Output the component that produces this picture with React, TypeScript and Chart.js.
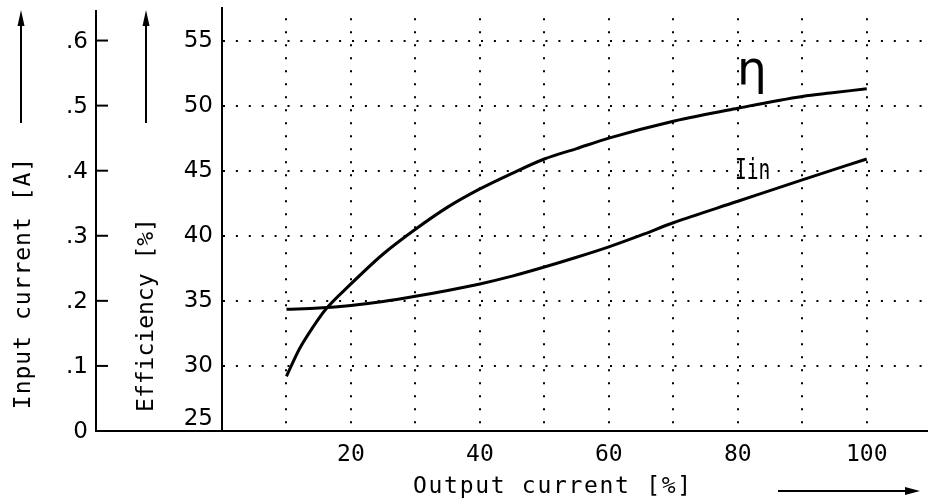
import React, { useEffect, useRef } from 'react';
import { Chart, registerables } from 'chart.js';

Chart.register(...registerables);

// ---- data ----
const effOutput = [10, 12, 14, 16, 20, 25, 30, 35, 40, 45, 50, 55, 60, 70, 80, 90, 95, 100];
const effValues = [29.2, 31.3, 32.9, 34.3, 36.3, 38.6, 40.5, 42.2, 43.6, 44.8, 45.9, 46.7, 47.5, 48.8, 49.8, 50.7, 51.0, 51.3];
const iinOutput = [10, 15, 20, 25, 30, 35, 40, 45, 50, 55, 60, 65, 70, 80, 90, 100];
const iinValues = [0.187, 0.189, 0.193, 0.199, 0.207, 0.216, 0.226, 0.238, 0.252, 0.267, 0.283, 0.301, 0.32, 0.353, 0.386, 0.418];
const xTickLabels = [20, 40, 60, 80, 100];
const effTicks = [25, 30, 35, 40, 45, 50, 55];
const curTicks = [0, 0.1, 0.2, 0.3, 0.4, 0.5, 0.6];
const curTickLabels = ['0', '.1', '.2', '.3', '.4', '.5', '.6'];

const MONO = '"DejaVu Sans Mono", monospace';
const SANS = '"DejaVu Sans", sans-serif';

function arrow(ctx: CanvasRenderingContext2D, x1: number, y1: number, x2: number, y2: number, len: number, half: number) {
  const a = Math.atan2(y2 - y1, x2 - x1);
  ctx.beginPath();
  ctx.moveTo(x1, y1);
  ctx.lineTo(x2 - Math.cos(a) * len * 0.5, y2 - Math.sin(a) * len * 0.5);
  ctx.stroke();
  ctx.beginPath();
  ctx.moveTo(x2, y2);
  ctx.lineTo(x2 - Math.cos(a) * len - Math.sin(a) * half, y2 - Math.sin(a) * len + Math.cos(a) * half);
  ctx.lineTo(x2 - Math.cos(a) * len + Math.sin(a) * half, y2 - Math.sin(a) * len - Math.cos(a) * half);
  ctx.closePath();
  ctx.fill();
}

const decor = {
  id: 'decor',
  afterDraw(chart: any) {
    const ctx: CanvasRenderingContext2D = chart.ctx;
    const ca = chart.chartArea;
    const cur = chart.scales.cur;
    const eff = chart.scales.eff;
    const xs = chart.scales.x;
    ctx.save();
    ctx.strokeStyle = '#000';
    ctx.fillStyle = '#000';
    ctx.lineWidth = 2;

    // secondary (input current) axis
    const axX = 96;
    ctx.beginPath();
    ctx.moveTo(axX, ca.top + 2);
    ctx.lineTo(axX, ca.bottom);
    ctx.lineTo(ca.left, ca.bottom);
    ctx.stroke();
    ctx.font = '23px ' + SANS;
    ctx.textAlign = 'right';
    ctx.textBaseline = 'middle';
    curTicks.forEach((v, i) => {
      const y = cur.getPixelForValue(v);
      if (v > 0) {
        ctx.beginPath();
        ctx.moveTo(axX, y);
        ctx.lineTo(axX + 12, y);
        ctx.stroke();
      }
      ctx.fillText(curTickLabels[i], 88, y + 1);
    });

    // lowest efficiency label sits just above the bottom axis
    ctx.fillText(String(effTicks[0]), ca.left - 9, eff.getPixelForValue(effTicks[0]) - 12);

    // axis titles
    ctx.font = '23px ' + MONO;
    ctx.textAlign = 'center';
    ctx.textBaseline = 'middle';
    ctx.save();
    ctx.translate(24, 283);
    ctx.rotate(-Math.PI / 2);
    (ctx as any).letterSpacing = '1px';
    ctx.fillText('Input current [A]', 0, 0);
    ctx.restore();

    ctx.save();
    ctx.translate(147, 315);
    ctx.rotate(-Math.PI / 2);
    ctx.fillText('Efficiency [%]', 0, 0);
    ctx.restore();

    ctx.save();
    (ctx as any).letterSpacing = '1.7px';
    ctx.textAlign = 'left';
    ctx.fillText('Output current [%]', 413, 487);
    ctx.restore();

    // arrows
    ctx.lineWidth = 2;
    arrow(ctx, 21, 123, 21, 10, 16, 3.5);
    arrow(ctx, 146, 123, 146, 10, 16, 3.5);
    arrow(ctx, 778, 491, 920, 491, 15, 4);

    // curve labels
    ctx.font = '47px ' + SANS;
    ctx.textAlign = 'center';
    ctx.textBaseline = 'alphabetic';
    ctx.fillText('η', xs.getPixelForValue(82.2), eff.getPixelForValue(51.65));

    ctx.save();
    ctx.translate(xs.getPixelForValue(82.3), cur.getPixelForValue(0.398));
    ctx.scale(0.7, 1);
    ctx.font = '28px ' + MONO;
    ctx.textBaseline = 'middle';
    ctx.fillText('Iin', 0, 0);
    ctx.restore();

    ctx.restore();
  },
};

export default function App() {
  const ref = useRef<HTMLCanvasElement>(null);
  useEffect(() => {
    const chart = new Chart(ref.current as HTMLCanvasElement, {
      type: 'line',
      data: {
        datasets: [
          {
            label: 'η',
            data: effOutput.map((x, i) => ({ x, y: effValues[i] })),
            yAxisID: 'eff',
            borderColor: '#000',
            borderWidth: 3,
            pointRadius: 0,
            cubicInterpolationMode: 'monotone',
          },
          {
            label: 'Iin',
            data: iinOutput.map((x, i) => ({ x, y: iinValues[i] })),
            yAxisID: 'cur',
            borderColor: '#000',
            borderWidth: 3,
            pointRadius: 0,
            cubicInterpolationMode: 'monotone',
          },
        ],
      },
      options: {
        animation: false,
        responsive: false,
        maintainAspectRatio: false,
        layout: { padding: { top: 8, left: 0, right: 0, bottom: 0 } },
        plugins: { legend: { display: false }, tooltip: { enabled: false } },
        scales: {
          x: {
            type: 'linear',
            min: 0,
            max: 109.5,
            afterFit: (s: any) => {
              s.height = 70;
              s.paddingLeft = 0;
              s.paddingRight = 0;
            },
            ticks: {
              stepSize: 10,
              includeBounds: false,
              autoSkip: false,
              maxRotation: 0,
              padding: 10,
              color: '#000',
              font: { family: MONO, size: 23 },
              callback: (v: any) => (xTickLabels.includes(Number(v)) ? String(v) : ''),
            },
            grid: {
              color: (c: any) => (c.tick && c.tick.value > 0 && c.tick.value <= 100 ? '#000' : 'rgba(0,0,0,0)'),
              lineWidth: 2,
              drawTicks: false,
            },
            border: { display: true, color: '#000', width: 2, dash: [2, 11.0], dashOffset: 2.7 },
          },
          eff: {
            type: 'linear',
            position: 'left',
            min: 25,
            max: 57.5,
            afterFit: (s: any) => {
              s.width = 222;
              s.paddingTop = 0;
              s.paddingBottom = 0;
            },
            ticks: {
              stepSize: 5,
              includeBounds: false,
              padding: 9,
              color: '#000',
              font: { family: SANS, size: 23 },
              callback: (v: any) => (effTicks.includes(Number(v)) && Number(v) !== effTicks[0] ? String(v) : ''),
            },
            grid: {
              color: (c: any) => (c.tick && c.tick.value > 25 ? '#000' : 'rgba(0,0,0,0)'),
              lineWidth: 2,
              drawTicks: false,
            },
            border: { display: true, color: '#000', width: 2, dash: [2, 10.9] },
          },
          cur: { type: 'linear', position: 'left', display: false, min: 0, max: 0.65 },
        },
      } as any,
      plugins: [decor],
    });
    return () => chart.destroy();
  }, []);
  return (
    <div style={{ position: 'fixed', left: 0, top: 0, width: 928, height: 501, background: '#fff' }}>
      <canvas ref={ref} width={928} height={501} style={{ display: 'block' }} />
    </div>
  );
}
